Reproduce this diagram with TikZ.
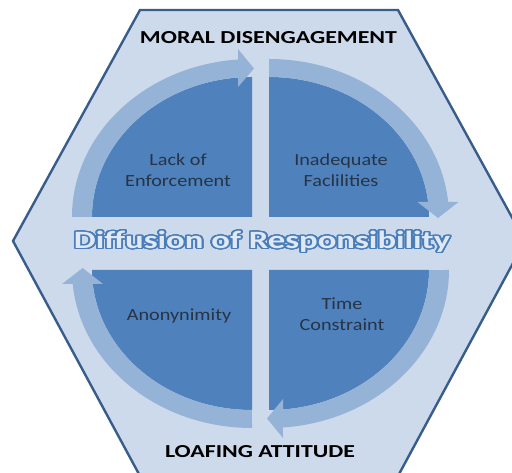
\documentclass[tikz,border=0pt]{standalone}
\usepackage{fontspec}
\setmainfont{Carlito}
\usepackage[copies]{contour}
\contourlength{0.9pt}
\contournumber{40}

\definecolor{hexfill}{HTML}{CDDAEC}
\definecolor{hexline}{HTML}{385D8A}
\definecolor{quadfill}{HTML}{4F81BD}
\definecolor{arrowfill}{HTML}{95B3D7}
\definecolor{quadink}{HTML}{263445}
\definecolor{diffedge}{HTML}{4A7EBB}
\definecolor{diffface}{HTML}{DFE8F3}

% two-line label inside a quadrant, widened horizontally
\newcommand{\quadlabel}[1]{\scalebox{1.19}[1]{\begin{tabular}{@{}c@{}}#1\end{tabular}}}

\tikzset{
  hexagon/.style={fill=hexfill, draw=hexline, line width=2.4pt, line join=miter},
  quadrant/.style={fill=quadfill},
  cyclearrow/.style={fill=arrowfill},
  qtext/.style={inner sep=0pt, text=quadink, font=\fontsize{17}{21}\selectfont},
  heading/.style={inner sep=0pt, anchor=base, text=black, font=\bfseries\fontsize{18}{22}\selectfont},
}

\begin{document}
\begin{tikzpicture}[x=1pt,y=1pt]
\clip (0,0) rectangle (512,473);

% outer hexagon
\draw[hexagon] (140,463) -- (398,463) -- (525,232) -- (398,-3) -- (140,-3) -- (13,232) -- cycle;

% four quadrants of the central ellipse
\fill[quadrant] (252,256) -- (92,256) arc[start angle=180, end angle=90, x radius=160, y radius=140] -- cycle;
\fill[quadrant] (269,256) -- (269,396) arc[start angle=90, end angle=0, x radius=160, y radius=140] -- cycle;
\fill[quadrant] (269,203) -- (429,203) arc[start angle=0, end angle=-90, x radius=160, y radius=140] -- cycle;
\fill[quadrant] (252,203) -- (252,63) arc[start angle=270, end angle=180, x radius=160, y radius=140] -- cycle;

% clockwise arrows around the quadrants
\fill[cyclearrow] (72,256) arc[start angle=180, end angle=94.46, x radius=180, y radius=158]
  -- (238,424) -- (254,404.5) -- (238,386)
  -- (238.05,395.5) arc[start angle=95.02, end angle=180, x radius=160, y radius=140] -- cycle;
\fill[cyclearrow] (269,414) arc[start angle=90, end angle=5.45, x radius=180, y radius=158]
  -- (458.5,271) -- (438,255) -- (417.5,271)
  -- (428.1,271) arc[start angle=6.15, end angle=90, x radius=160, y radius=140] -- cycle;
\fill[cyclearrow] (449,203) arc[start angle=0, end angle=-85.54, x radius=180, y radius=158]
  -- (283,35) -- (267,54.5) -- (283,74)
  -- (283,63.5) arc[start angle=-84.98, end angle=0, x radius=160, y radius=140] -- cycle;
\fill[cyclearrow] (252,45) arc[start angle=270, end angle=185.08, x radius=180, y radius=158]
  -- (62,189) -- (82.7,205) -- (103,189)
  -- (92.8,189) arc[start angle=185.74, end angle=270, x radius=160, y radius=140] -- cycle;

% quadrant labels
\node[qtext] (lack) at (178,300.7) {\quadlabel{Lack of\\Enforcement}};
\node[qtext] (inadequate) at (341,300.7) {\quadlabel{Inadequate\\Faclilities}};
\node[qtext, anchor=base] (anon) at (179,152.3) {\quadlabel{Anonynimity}};
\node[qtext] (time) at (342,156.7) {\quadlabel{Time\\Constraint}};

% headings
\node[heading] (moral) at (268.5,429.3) {\resizebox{257pt}{12pt}{MORAL DISENGAGEMENT}};
\node[heading] (loafing) at (260,15) {\resizebox{190pt}{12pt}{LOAFING ATTITUDE}};

% outlined central caption
\node[heading] (diffusion) at (262,224.7)
  {\resizebox{376pt}{17.5pt}{\contour{diffedge}{\color{diffface}Diffusion of Responsibility}}};
\end{tikzpicture}
\end{document}
